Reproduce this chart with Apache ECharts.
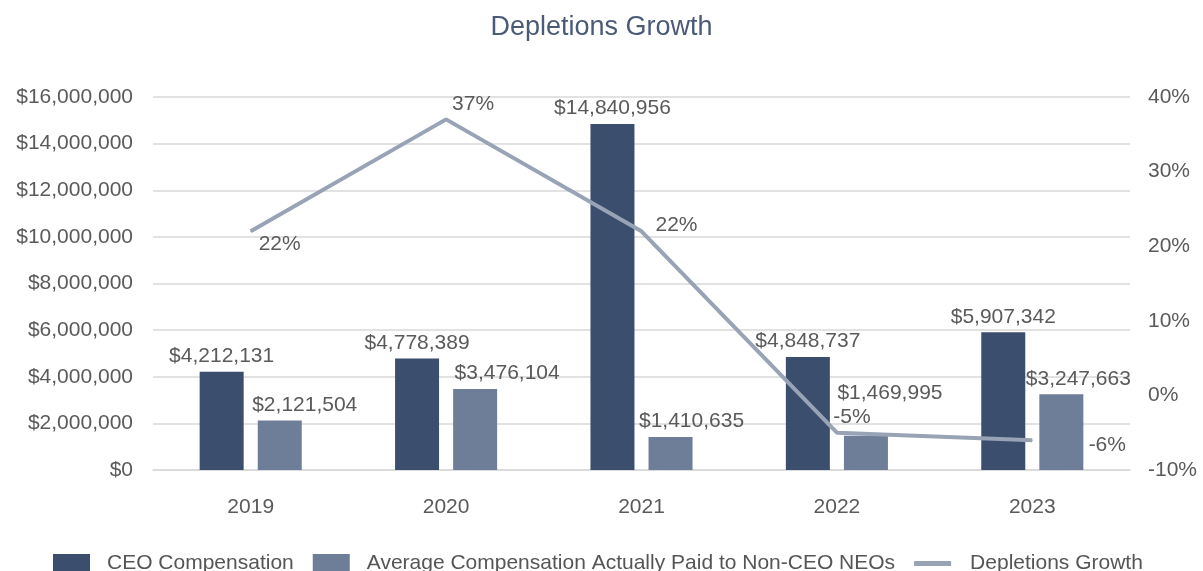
<!DOCTYPE html>
<html>
<head>
<meta charset="utf-8">
<script src="https://cdn.jsdelivr.net/npm/echarts@6/dist/echarts.min.js"></script>
<style>
  html, body { margin: 0; padding: 0; background: #fff; }
  #chart { width: 1203px; height: 571px; }
</style>
</head>
<body>
<div id="chart"></div>
<script>
// data
const years = ['2019', '2020', '2021', '2022', '2023'];
const ceoComp = [4212131, 4778389, 14840956, 4848737, 5907342];
const neoComp = [2121504, 3476104, 1410635, 1469995, 3247663];
const depletionsGrowth = [22, 37, 22, -5, -6];

// label nudges (style only)
const neoLabelOffsets = [[25, 0], [32, 0], [21, 0], [24, -27], [17, 0]];
const growthLabelOffsets = [[29, 13], [27, -15], [35, -6], [15, -15], [75, 5]];

const font = 'Liberation Sans, Arial, sans-serif';
const textColor = '#5a5a5a';
const money = v => '$' + v.toLocaleString('en-US');

const chart = echarts.init(document.getElementById('chart'));

const option = {
  backgroundColor: '#fff',
  animation: false,
  textStyle: { fontFamily: font },
  title: {
    text: 'Depletions Growth',
    left: 'center',
    top: 9,
    textStyle: { color: '#4b5a77', fontSize: 27, fontWeight: 'normal', fontFamily: font }
  },
  grid: { left: 153, right: 73, top: 97, bottom: 101 },
  legend: {
    left: 48,
    top: 548,
    itemWidth: 37,
    itemHeight: 19,
    itemGap: 19,
    textStyle: { color: '#555', fontSize: 21, fontFamily: font, padding: [0, 0, 0, 12] },
    data: [
      { name: 'CEO Compensation', icon: 'rect' },
      { name: 'Average Compensation Actually Paid to Non-CEO NEOs', icon: 'rect',
        textStyle: { padding: [0, 38, 0, 12] } },
      { name: 'Depletions Growth', icon: 'path://M0,0H36V5H0Z',
        itemStyle: { color: '#98a3b6' }, textStyle: { padding: [0, 0, 0, 14] } }
    ]
  },
  xAxis: {
    type: 'category',
    data: years,
    axisLine: { lineStyle: { color: '#d9d9d9', width: 1.5 } },
    axisTick: { show: false },
    axisLabel: { color: textColor, fontSize: 21, margin: 27, fontFamily: font }
  },
  yAxis: [
    {
      type: 'value',
      min: 0,
      max: 16000000,
      interval: 2000000,
      axisLine: { show: false },
      axisTick: { show: false },
      splitLine: { lineStyle: { color: '#d9d9d9', width: 1.5 } },
      axisLabel: { color: textColor, fontSize: 21, margin: 20, fontFamily: font, formatter: money }
    },
    {
      type: 'value',
      min: -10,
      max: 40,
      interval: 10,
      axisLine: { show: false },
      axisTick: { show: false },
      splitLine: { show: false },
      axisLabel: { color: textColor, fontSize: 21, margin: 18, fontFamily: font, formatter: '{value}%' }
    }
  ],
  series: [
    {
      name: 'CEO Compensation',
      type: 'bar',
      data: ceoComp,
      barWidth: 44,
      barGap: '32%',
      itemStyle: { color: '#3c4e6d' },
      label: {
        show: true,
        position: 'top',
        color: textColor,
        fontSize: 21,
        fontFamily: font,
        formatter: p => money(p.value)
      }
    },
    {
      name: 'Average Compensation Actually Paid to Non-CEO NEOs',
      type: 'bar',
      barWidth: 44,
      itemStyle: { color: '#6e7d98' },
      data: neoComp.map((v, i) => ({ value: v, label: { offset: neoLabelOffsets[i] } })),
      label: {
        show: true,
        position: 'top',
        color: textColor,
        fontSize: 21,
        fontFamily: font,
        formatter: p => money(p.value)
      }
    },
    {
      name: 'Depletions Growth',
      type: 'line',
      yAxisIndex: 1,
      z: 5,
      symbol: 'circle',
      symbolSize: 1,
      lineStyle: { color: '#98a3b6', width: 4 },
      itemStyle: { color: '#98a3b6' },
      data: depletionsGrowth.map((v, i) => ({ value: v, label: { offset: growthLabelOffsets[i] } })),
      label: {
        show: true,
        position: 'inside',
        color: textColor,
        fontSize: 21,
        fontFamily: font,
        formatter: '{c}%'
      }
    }
  ]
};

chart.setOption(option);
</script>
</body>
</html>
